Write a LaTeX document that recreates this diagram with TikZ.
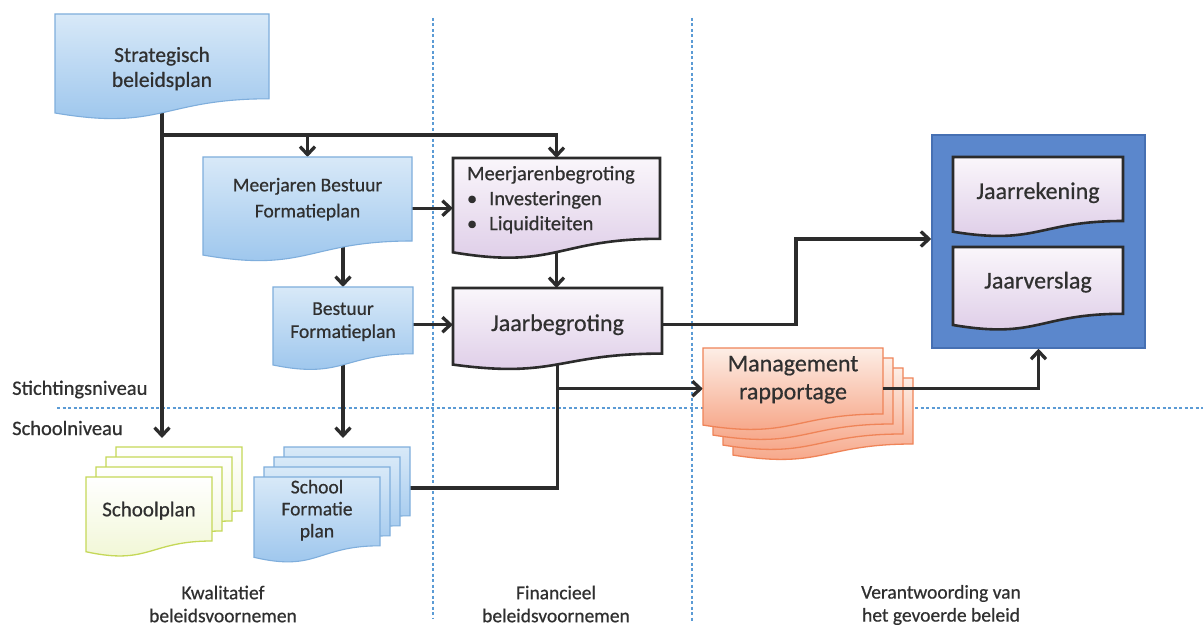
\documentclass[tikz,border=0pt]{standalone}
\usepackage{fontspec}
\setmainfont{Carlito}[FakeBold=0.6]
\usetikzlibrary{arrows.meta,calc}
\pgfdeclarelayer{background}
\pgfsetlayers{background,main}
\definecolor{txt}{HTML}{303030}
\definecolor{blueT}{HTML}{D8E9F8}
\definecolor{blueB}{HTML}{98C3EC}
\definecolor{blueL}{HTML}{7FAEDC}
\definecolor{purT}{HTML}{FAF6FB}
\definecolor{purB}{HTML}{DCCAE6}
\definecolor{purL}{HTML}{2B2B2B}
\definecolor{grnB}{HTML}{F0F6D2}
\definecolor{grnL}{HTML}{C5D858}
\definecolor{orT}{HTML}{FDEEE6}
\definecolor{orB}{HTML}{F6A080}
\definecolor{orL}{HTML}{EF8458}
\definecolor{boxF}{HTML}{5B87CC}
\definecolor{boxL}{HTML}{4670B3}
\definecolor{dashc}{HTML}{5B9BD5}
\definecolor{connc}{HTML}{2C2C2C}
\newcommand\fsz[2]{\fontsize{#1bp}{#2bp}\selectfont}
% document shape: style, x1, y1, x2, y2 (full height bottom)
\newcommand\docshape[5]{\path[#1] (#2,#3) -- (#4,#3) -- (#4,{#3+0.8*(#5-#3)})
  .. controls ({(#2+#4)/2},{#3+0.8*(#5-#3)}) and ({(#2+#4)/2},{#3+1.107*(#5-#3)})
  .. (#2,{#3+0.934*(#5-#3)}) -- cycle;}
% shape style, node options, name, x1, y1, x2, y2, text centre y, text
\newcommand\docnode[9]{\docshape{#1}{#4}{#5}{#6}{#7}%
  \node[inner sep=0, align=center, text=txt, anchor=north,
    minimum width={(#6-#4)*1bp}, minimum height={2*(#8-#5)*1bp}, #2]
    (#3) at ({(#4+#6)/2},#5) {#9};}
\tikzset{
  bluedoc/.style={draw=blueL, line width=1.1bp, top color=blueT, bottom color=blueB},
  purdoc/.style={draw=purL, line width=2.6bp, top color=purT, bottom color=purB},
  grndoc/.style={draw=grnL, line width=1.3bp, top color=white, bottom color=grnB},
  ordoc/.style={draw=orL, line width=1.3bp, top color=orT, bottom color=orB},
  lbl/.style={text=txt, inner sep=0},
  conn/.style={draw=connc, line width=3.3bp},
  arr/.style={conn, -{Straight Barb[length=8bp,width=15bp]}},
  divider/.style={draw=dashc, line width=1.3bp, dash pattern=on 3bp off 2.5bp},
}
\begin{document}
\begin{tikzpicture}[x=1bp,y=-1bp]
\useasboundingbox (0,0) rectangle (1203,628);
\begin{pgfonlayer}{background}
\fill[white] (0,0) rectangle (1203,628);
\draw[divider] (433,18) -- (433,618);
\draw[divider] (692,18) -- (692,622);
\draw[divider] (57,408) -- (1203,408);
\end{pgfonlayer}

% blue container
\node[draw=boxL, fill=boxF, line width=1.5bp, minimum width=213bp, minimum height=213bp, inner sep=0] (jbox) at (1038.5,241.5) {};

% documents
\docnode{bluedoc}{font=\fsz{21.5}{25}}{strat}{55}{14}{269}{120}{68.5}{Strategisch\\beleidsplan}
\docnode{bluedoc}{font=\fsz{19.5}{26}}{mbf}{203}{157}{412}{262}{199}{Meerjaren Bestuur\\Formatieplan}
\docnode{bluedoc}{font=\fsz{19.5}{23}}{bf}{273}{287}{413}{370.5}{321.5}{Bestuur\\Formatieplan}
\docnode{purdoc}{font=\fsz{20.5}{25}, text width=179bp, align=left}{mjb}{453}{158}{660}{259}{199.5}{Meerjarenbegroting\\•\hspace{12bp}Investeringen\\•\hspace{12bp}Liquiditeiten}
\docnode{purdoc}{font=\fsz{24}{28}}{jb}{453}{288}{662}{370}{324.5}{Jaarbegroting}
\docnode{purdoc}{font=\fsz{24}{28}}{jr}{953}{157}{1123}{237}{192.5}{Jaarrekening}
\docnode{purdoc}{font=\fsz{24}{28}}{jv}{953}{247}{1123}{330.5}{282}{Jaarverslag}

% Schoolplan stack
\docshape{grndoc}{116}{447}{242}{527}
\docshape{grndoc}{106}{457}{232}{537}
\docshape{grndoc}{96}{467}{222}{547}
\docnode{grndoc}{font=\fsz{21}{25}}{sp}{86}{477}{212}{557}{510.5}{Schoolplan}

% School Formatie plan stack
\docshape{bluedoc}{284}{447}{410}{533}
\docshape{bluedoc}{274}{457}{400}{543}
\docshape{bluedoc}{264}{467}{390}{553}
\docnode{bluedoc}{font=\fsz{19.5}{22}}{sfp}{254}{477}{380}{563}{510}{School\\Formatie\\plan}

% Management rapportage stack
\docshape{ordoc}{733}{378}{913}{460.5}
\docshape{ordoc}{723}{368}{903}{450.5}
\docshape{ordoc}{713}{358}{893}{440.5}
\docnode{ordoc}{font=\fsz{24}{28}}{mr}{703}{348}{883}{430.5}{379.5}{Management\\rapportage}

% labels
\node[lbl, font=\fsz{20.5}{24}, anchor=west] (stn) at (12,389.5) {Stichtingsniveau};
\node[lbl, font=\fsz{20.5}{24}, anchor=west] (scn) at (12,428) {Schoolniveau};
\node[lbl, font=\fsz{19.5}{23}, align=center] (kw) at (223,604) {Kwalitatief\\beleidsvoornemen};
\node[lbl, font=\fsz{19.5}{23}, align=center] (fin) at (556,604) {Financieel\\beleidsvoornemen};
\node[lbl, font=\fsz{19.5}{23}, align=center] (ver) at (941,605) {Verantwoording van\\het gevoerde beleid};

% connector points
\coordinate (split) at (163,135);
\coordinate (spin) at (163,438);
\coordinate (sfpin) at (343,438);
\coordinate (sfpout) at (410,488);
\coordinate (bend1) at (796,239);
\coordinate (mrin) at ([yshift=-9bp]mr.west);
\coordinate (mrout) at ([yshift=-8.5bp]mr.east);
\coordinate (mbfout) at ([yshift=-9bp]mbf.east);

\begin{pgfonlayer}{background}
\draw[arr] (strat.center) -- (strat.center |- spin);
\draw[arr] (strat.center |- split) -| (mjb.north);
\draw[arr] (strat.center |- split) -| (mbf.north);
\draw[arr] (mbfout) -- (mbfout -| mjb.west);
\draw[arr] (mbf.center -| bf.north) -- (bf.north);
\draw[arr] (bf.east |- jb.west) -- (jb.west);
\draw[arr] (mjb.center) -- (mjb.center |- jb.north);
\draw[arr] (bf.center) -- (bf.center |- sfpin);
\draw[arr] (jb.east) -- (jb.east -| bend1) -- (bend1) -- (bend1 -| jbox.west);
\draw[conn] (sfpout) -| (jb.center);
\draw[arr] (jb.center |- mrin) -- (mrin);
\end{pgfonlayer}
\draw[arr] (mrout) -| (jbox.south);
\end{tikzpicture}
\end{document}
